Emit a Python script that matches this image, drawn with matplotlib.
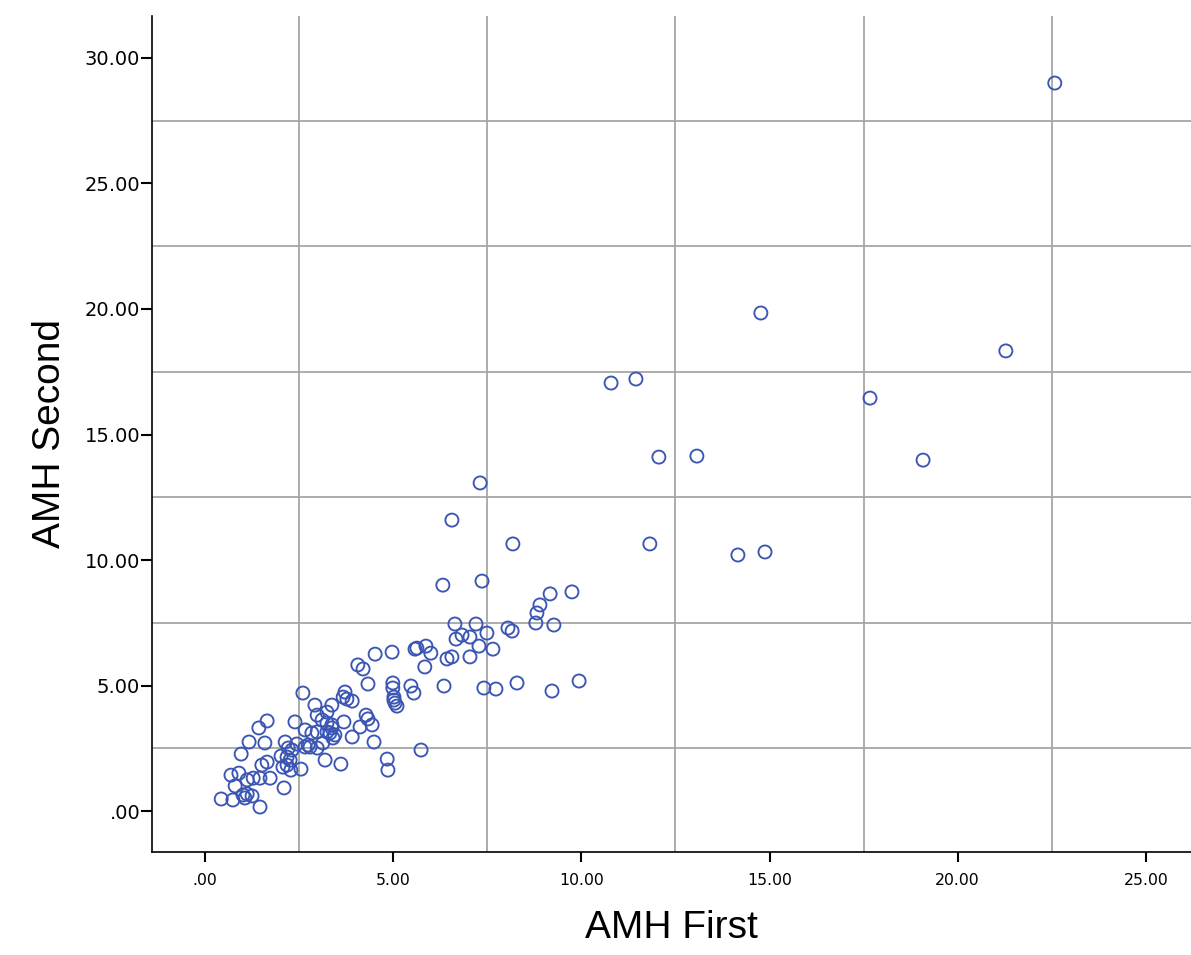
import numpy as np
import matplotlib
matplotlib.use('Agg')
import matplotlib.pyplot as plt

amh_first = [22.58, 14.77, 21.28, 10.79, 11.45, 17.67, 12.06, 13.07, 19.08, 7.31,
             6.56, 8.18, 11.82, 14.16, 14.88, 6.32, 7.36, 9.17, 9.75, 8.90,
             8.82, 8.79, 9.27, 8.05, 8.16, 6.64, 7.20, 6.67, 6.83, 7.04,
             7.49, 7.28, 7.65, 7.04, 6.43, 6.56, 5.84, 5.58, 5.63, 5.87,
             6.00, 4.97, 4.52, 4.06, 4.20, 4.33, 4.99, 4.99, 5.02, 5.02,
             5.05, 5.10, 5.47, 5.55, 6.35, 7.41, 7.73, 8.29, 9.22, 9.94,
             5.74, 4.84, 4.86, 3.61, 3.19, 2.60, 3.72, 3.67, 3.77, 3.91,
             2.92, 3.37, 2.98, 3.24, 4.28, 4.33, 4.44, 4.12, 3.69, 4.49,
             3.91, 3.11, 3.24, 3.37, 3.37, 2.66, 2.84, 2.98, 3.24, 3.32,
             3.40, 3.45, 2.74, 3.13, 1.65, 1.43, 2.39, 1.17, 1.59, 2.13,
             0.96, 2.21, 2.31, 2.44, 2.79, 2.66, 2.98, 2.02, 2.18, 2.26,
             2.18, 2.07, 2.28, 2.55, 1.65, 1.51, 0.69, 0.90, 0.80, 1.28,
             1.46, 1.73, 1.12, 2.10, 0.43, 0.74, 1.01, 1.12, 1.25, 1.06,
             1.46]
amh_second = [29.00, 19.84, 18.33, 17.05, 17.21, 16.45, 14.10, 14.14, 13.98, 13.07,
              11.59, 10.64, 10.64, 10.20, 10.32, 9.00, 9.16, 8.65, 8.73, 8.21,
              7.89, 7.49, 7.41, 7.29, 7.17, 7.45, 7.45, 6.85, 7.01, 6.93,
              7.09, 6.57, 6.45, 6.14, 6.06, 6.14, 5.74, 6.45, 6.49, 6.57,
              6.29, 6.33, 6.25, 5.82, 5.66, 5.06, 5.10, 4.90, 4.54, 4.42,
              4.30, 4.18, 4.98, 4.70, 4.98, 4.90, 4.86, 5.10, 4.78, 5.18,
              2.43, 2.07, 1.63, 1.87, 2.03, 4.70, 4.74, 4.54, 4.46, 4.38,
              4.22, 4.22, 3.82, 3.94, 3.82, 3.67, 3.43, 3.35, 3.55, 2.75,
              2.95, 3.63, 3.51, 3.43, 3.31, 3.23, 3.11, 3.15, 3.15, 3.11,
              2.91, 3.03, 2.63, 2.71, 3.59, 3.31, 3.55, 2.75, 2.71, 2.75,
              2.27, 2.51, 2.43, 2.67, 2.55, 2.55, 2.51, 2.19, 2.15, 2.03,
              1.83, 1.75, 1.63, 1.67, 1.95, 1.83, 1.43, 1.51, 1.00, 1.31,
              1.31, 1.31, 1.24, 0.92, 0.48, 0.44, 0.64, 0.68, 0.60, 0.52,
              0.16]

x_ticks = [0, 5, 10, 15, 20, 25]
x_tick_labels = ['.00', '5.00', '10.00', '15.00', '20.00', '25.00']
y_ticks = [0, 5, 10, 15, 20, 25, 30]
y_tick_labels = ['.00', '5.00', '10.00', '15.00', '20.00', '25.00', '30.00']
grid_x = [2.5, 7.5, 12.5, 17.5, 22.5]
grid_y = [2.5, 7.5, 12.5, 17.5, 22.5, 27.5]

fig = plt.figure(figsize=(11.91, 9.55), dpi=100)
ax = fig.add_axes([0.1276, 0.1079, 0.8724, 0.8753])

for g in grid_x:
    ax.axvline(g, color='#a6a6a6', linewidth=1.3, zorder=1)
for g in grid_y:
    ax.axhline(g, color='#a6a6a6', linewidth=1.3, zorder=1)

ax.scatter(amh_first, amh_second, s=88, facecolors='none', edgecolors='#3a55b4',
           linewidths=1.35, zorder=3)

ax.set_xlim(-1.41, 26.2)
ax.set_ylim(-1.63, 31.67)

ax.spines['top'].set_visible(False)
ax.spines['right'].set_visible(False)
ax.spines['left'].set_linewidth(1.2)
ax.spines['bottom'].set_linewidth(1.2)

ax.set_xticks(x_ticks)
ax.set_xticklabels(x_tick_labels, fontsize=11.3, family='DejaVu Sans')
ax.set_yticks(y_ticks)
ax.set_yticklabels(y_tick_labels, fontsize=14, family='DejaVu Sans')
ax.tick_params(axis='x', direction='out', length=7, width=1.5, pad=8)
ax.tick_params(axis='y', direction='out', length=8, width=1.5, pad=0.5)

ax.set_xlabel('AMH First', fontsize=28, family='Liberation Sans', va='center')
ax.xaxis.set_label_coords(0.5, -0.091)
ax.set_ylabel('AMH Second', fontsize=28, family='Liberation Sans', va='center')
ax.yaxis.set_label_coords(-0.098, 0.5)

fig.savefig('out.png', dpi=100)
